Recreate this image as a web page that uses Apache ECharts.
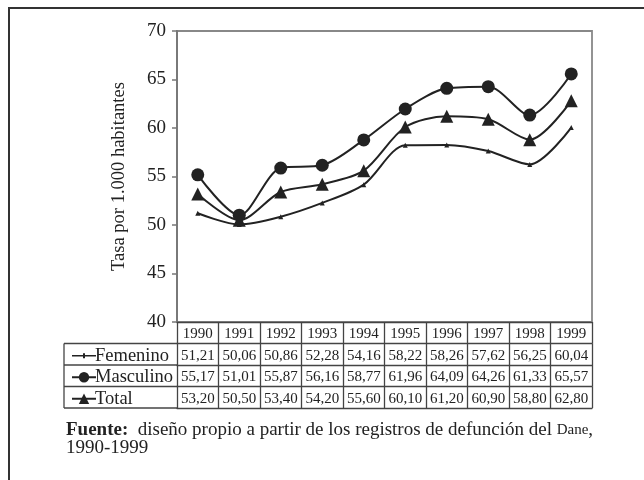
<!DOCTYPE html>
<html><head><meta charset="utf-8">
<script src="https://cdn.jsdelivr.net/npm/echarts@6/dist/echarts.min.js"></script>
<style>html,body{margin:0;padding:0;background:#fff}#c{width:644px;height:480px}</style>
</head><body><div id="c"></div>
<script>
const years = ['1990','1991','1992','1993','1994','1995','1996','1997','1998','1999'];
const femenino = [51.21, 50.06, 50.86, 52.28, 54.16, 58.22, 58.26, 57.62, 56.25, 60.04];
const masculino = [55.17, 51.01, 55.87, 56.16, 58.77, 61.96, 64.09, 64.26, 61.33, 65.57];
const total = [53.20, 50.50, 53.40, 54.20, 55.60, 60.10, 61.20, 60.90, 58.80, 62.80];
const yTicks = [40, 45, 50, 55, 60, 65, 70];

const SERIF = '"Liberation Serif","DejaVu Serif",serif';
const INK = '#222';
const GL = 177, GR = 592, GT = 31, GB = 322, RH = 21.5;
const TL = 64;
const chart = echarts.init(document.getElementById('c'));
const fmt = v => v.toFixed(2).replace('.', ',');

function rowAxis(offset, arr) {
  return {
    type: 'category', data: years, position: 'bottom', offset: offset, boundaryGap: true,
    axisLine: {show: true, lineStyle: {color: '#444', width: 1.3}},
    axisTick: {show: true, interval: 0, length: RH, inside: false, lineStyle: {color: '#444', width: 1.3}},
    axisLabel: {show: arr !== null, interval: 0, margin: 5, color: INK, fontFamily: SERIF, fontSize: 15,
      formatter: (v, i) => arr ? arr[i] : ''},
    splitLine: {show: false}
  };
}

const lineCol = (y) => ({type: 'line', shape: {x1: TL, y1: y, x2: GL, y2: y}, style: {stroke: '#444', lineWidth: 1.3}});

const option = {
  animation: false,
  backgroundColor: '#fff',
  grid: {left: GL, right: 644 - GR, top: GT, bottom: 480 - GB, show: true, borderColor: '#888', borderWidth: 1.8, containLabel: false},
  xAxis: [
    rowAxis(0, years),
    rowAxis(RH, femenino.map(fmt)),
    rowAxis(RH * 2, masculino.map(fmt)),
    rowAxis(RH * 3, total.map(fmt)),
    Object.assign(rowAxis(RH * 4, null), {axisTick: {show: false}})
  ],
  yAxis: {
    type: 'value', min: yTicks[0], max: yTicks[yTicks.length - 1], interval: 5,
    name: 'Tasa por 1.000 habitantes', nameLocation: 'middle', nameGap: 48, nameRotate: 90,
    nameTextStyle: {fontFamily: SERIF, fontSize: 18.5, color: INK},
    axisLine: {show: true, lineStyle: {color: '#777', width: 1.8}},
    axisTick: {show: true, length: 5, lineStyle: {color: '#777', width: 1.5}},
    axisLabel: {fontFamily: SERIF, fontSize: 19, color: INK, margin: 11},
    splitLine: {show: false}
  },
  legend: {
    orient: 'vertical', left: 66, top: GB + RH + RH / 2 - 13, itemGap: RH - 19, itemWidth: 24, itemHeight: 13,
    textStyle: {fontFamily: SERIF, fontSize: 18.5, color: INK, lineHeight: 18, padding: [0, 0, 0, -6]},
    data: [
      {name: 'Femenino', icon: 'path://M0,3.2 L24,3.2 L24,4.8 L0,4.8 Z M11,1.5 L13,1.5 L13,6.5 L11,6.5 Z M0,0 L0.01,0 L0.01,0.01 Z M23.99,7.99 L24,8 L23.99,8 Z'},
      'Masculino', 'Total'
    ]
  },
  series: [
    {name: 'Femenino', type: 'line', data: femenino, smooth: 0.3, symbol: 'triangle', symbolSize: 5,
      lineStyle: {color: INK, width: 2}, itemStyle: {color: INK}},
    {name: 'Masculino', type: 'line', data: masculino, smooth: 0.3, symbol: 'circle', symbolSize: 13,
      lineStyle: {color: INK, width: 2}, itemStyle: {color: INK}},
    {name: 'Total', type: 'line', data: total, smooth: 0.3, symbol: 'triangle', symbolSize: 13,
      lineStyle: {color: INK, width: 2}, itemStyle: {color: INK}}
  ],
  graphic: [
    {type: 'line', shape: {x1: 8, y1: 8, x2: 644, y2: 8}, style: {stroke: '#333', lineWidth: 2}},
    {type: 'line', shape: {x1: 9, y1: 8, x2: 9, y2: 480}, style: {stroke: '#333', lineWidth: 2}},
    lineCol(GB + RH), lineCol(GB + RH * 2), lineCol(GB + RH * 3), lineCol(GB + RH * 4),
    {type: 'line', shape: {x1: TL, y1: GB + RH, x2: TL, y2: GB + RH * 4}, style: {stroke: '#444', lineWidth: 1.3}},
    {type: 'text', left: 66, top: GB + RH * 4 + 13,
      style: {text: '{b|Fuente:}  diseño propio a partir de los registros de defunción del {s|Dane},\n1990-1999',
        fontFamily: SERIF, fontSize: 19, fill: INK, lineHeight: 18,
        rich: {b: {fontWeight: 'bold', fontFamily: SERIF, fontSize: 19, fill: INK, lineHeight: 18},
               s: {fontFamily: SERIF, fontSize: 15, fill: INK, lineHeight: 18}}}}
  ]
};
chart.setOption(option);
</script></body></html>
